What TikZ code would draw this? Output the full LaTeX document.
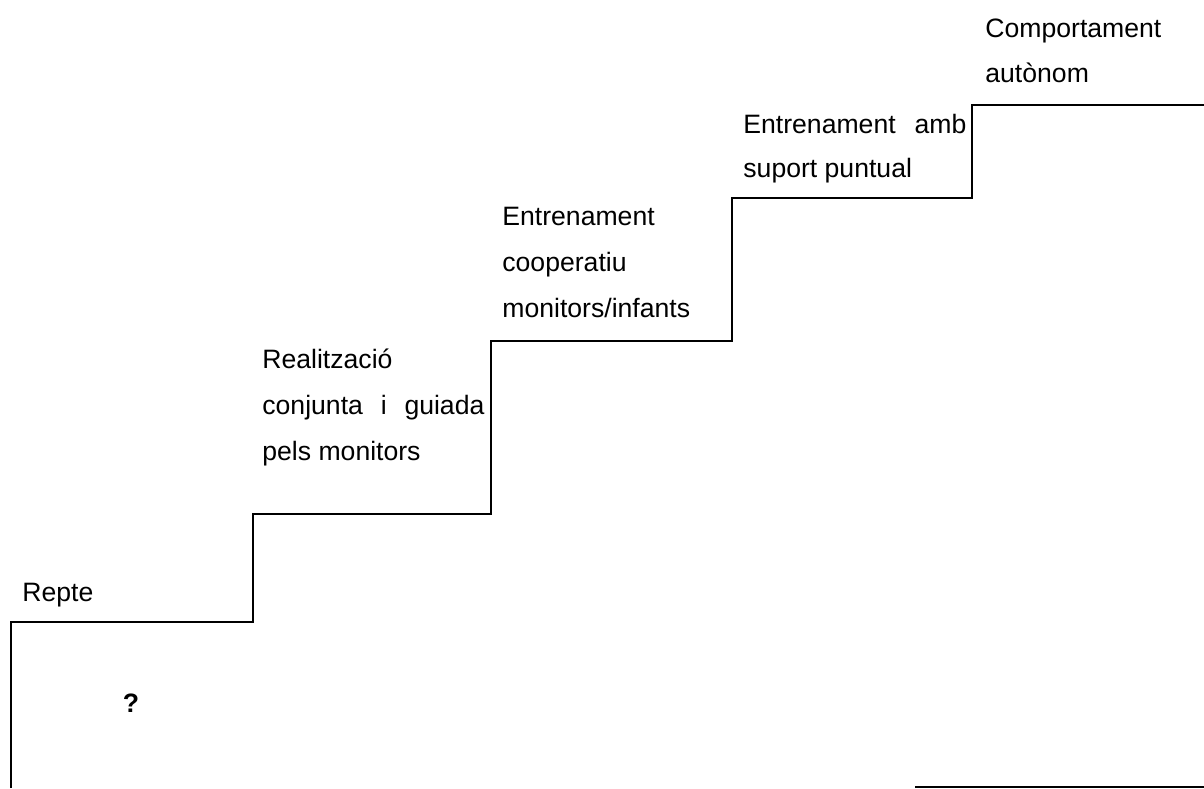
\documentclass[tikz,border=0pt]{standalone}
\usepackage{fontspec}
\setmainfont{Liberation Sans}
\usepackage{tikz}

\newcommand{\steplines}[1]{\begin{tabular}[t]{@{}l@{}}#1\end{tabular}}

\begin{document}
\begin{tikzpicture}[x=0.5pt, y=-0.5pt]

\tikzstyle{stair} = [line width=1pt, draw=black]
\tikzstyle{steptext} = [anchor=base west, inner sep=0pt, font=\fontsize{13.3}{23}\selectfont]

\useasboundingbox (0,0) rectangle (1204,788);

% escala
\draw [stair] (11,788) -- (11,622) -- (253,622) -- (253,514) -- (491,514) -- (491,341) -- (732,341) -- (732,198) -- (972,198) -- (972,105) -- (1204,105);
\draw [stair] (915,787) -- (1204,787);

\node (repte) [steptext] at (22,601) {Repte};
\node (quest) [steptext, anchor=base, font=\fontsize{13.3}{23}\selectfont\bfseries] at (131,712) {?};
\node (realitz) [steptext] at (262,368) {\steplines{Realització\\ \makebox[111pt][s]{conjunta i guiada}\\ pels monitors}};
\node (coop) [steptext] at (502,225) {\steplines{Entrenament\\ cooperatiu\\ monitors/infants}};
\node (suport) [steptext] at (743,133) {\steplines{\makebox[111.5pt][s]{Entrenament amb}\\[-1pt] suport puntual}};
\node (auton) [steptext] at (985,37) {\steplines{Comportament\\[-0.5pt] autònom}};
\end{tikzpicture}
\end{document}
